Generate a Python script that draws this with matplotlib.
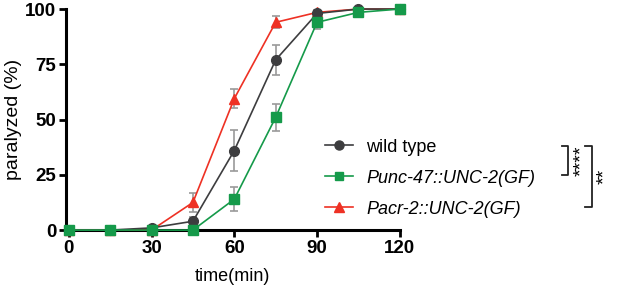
import matplotlib
matplotlib.use("Agg")
import matplotlib.pyplot as plt
from matplotlib.lines import Line2D

plt.rcParams['font.family'] = ['Liberation Sans', 'DejaVu Sans']

time = [0, 15, 30, 45, 60, 75, 90, 105, 120]
wt = [0, 0, 1, 4, 36, 77, 98, 100, 100]
wt_err = [0, 0, 0, 2, 9.4, 6.9, 1, 0, 0]
punc = [0, 0, 0, 0, 14, 51, 94, 98.5, 100]
punc_err = [0, 0, 0, 0, 5.3, 6, 3, 1, 0]
pacr = [0, 0, 0, 12.5, 59.5, 94, 98.5, 100, 100]
pacr_err = [0, 0, 0, 4.4, 4.3, 2.7, 1, 0, 0]

labels = ["wild type", "Punc-47::UNC-2(GF)", "Pacr-2::UNC-2(GF)"]
xticks = [0, 30, 60, 90, 120]
yticks = [0, 25, 50, 75, 100]

c_wt = '#3d3d3f'
c_g = '#159a4a'
c_r = '#ee3124'
c_err = '#9a9a9a'

fig = plt.figure(figsize=(6.17, 2.92), dpi=100)
ax = fig.add_axes([0.107, 0.212, 0.541, 0.757])

series = [
    (pacr, pacr_err, c_r, '^', 7.5),
    (wt, wt_err, c_wt, 'o', 7),
    (punc, punc_err, c_g, 's', 6.5),
]
for y, e, c, m, ms in series:
    ax.errorbar(time, y, yerr=e, fmt='none', ecolor=c_err, elinewidth=1.2,
                capsize=3.2, capthick=1.2, clip_on=False, zorder=2)
    ax.plot(time, y, color=c, marker=m, markersize=ms, linewidth=1.2,
            clip_on=False, zorder=3)

ax.set_xlim(-1, 120)
ax.set_ylim(0, 100)
ax.set_xticks(xticks)
ax.set_yticks(yticks)
ax.set_xticklabels([str(t) for t in xticks], fontweight='bold', fontsize=13.5)
ax.set_yticklabels([str(t) for t in yticks], fontweight='bold', fontsize=13.5)
for s in ['top', 'right']:
    ax.spines[s].set_visible(False)
for s in ['left', 'bottom']:
    ax.spines[s].set_linewidth(2.2)
ax.tick_params(width=2, length=5, direction='out', pad=2)
ax.set_xlabel('time(min)', fontsize=13, labelpad=8)
ax.set_ylabel('paralyzed (%)', fontsize=14, labelpad=2)

handles = [
    Line2D([], [], color=c_wt, marker='o', markersize=6.5, linewidth=1.2),
    Line2D([], [], color=c_g, marker='s', markersize=6, linewidth=1.2),
    Line2D([], [], color=c_r, marker='^', markersize=6.5, linewidth=1.2),
]
leg = fig.legend(handles, labels, loc='upper left', bbox_to_anchor=(0.515, 0.55),
                 frameon=False, fontsize=13, handlelength=1.55, labelspacing=0.78,
                 handletextpad=0.75, borderaxespad=0)
for i, t in enumerate(leg.get_texts()):
    if i > 0:
        t.set_fontstyle('italic')

# significance brackets (figure pixel coordinates)
def px(x, y):
    return x / 617, 1 - y / 292

lw = 1.3
col = '#222222'
# inner bracket
xs = [562, 568, 568, 562]
ys = [146, 146, 175, 175]
fig.add_artist(Line2D([px(a, 0)[0] for a in xs], [px(0, b)[1] for b in ys],
                      color=col, linewidth=lw))
fig.text(*px(582, 161), '****', rotation=90, ha='center', va='center', fontsize=14)
# outer bracket
xs = [585, 592, 592, 585]
ys = [146, 146, 207, 207]
fig.add_artist(Line2D([px(a, 0)[0] for a in xs], [px(0, b)[1] for b in ys],
                      color=col, linewidth=lw))
fig.text(*px(605, 176), '**', rotation=90, ha='center', va='center', fontsize=14)

fig.savefig('out.png', dpi=100)
